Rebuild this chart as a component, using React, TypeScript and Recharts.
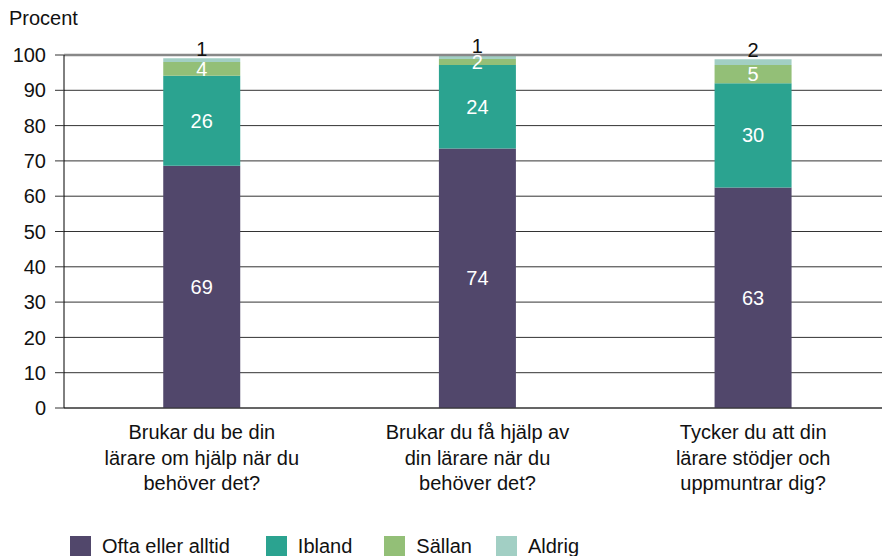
import React from 'react';
import { BarChart, Bar, XAxis, YAxis, CartesianGrid, ReferenceLine, LabelList } from 'recharts';

const categories = [
  ['Brukar du be din', 'lärare om hjälp när du', 'behöver det?'],
  ['Brukar du få hjälp av', 'din lärare när du', 'behöver det?'],
  ['Tycker du att din', 'lärare stödjer och', 'uppmuntrar dig?'],
];
const ofta = [68.6, 73.5, 62.5];
const ibland = [25.5, 23.7, 29.5];
const sallan = [3.9, 1.7, 5.2];
const aldrig = [1.1, 1.1, 1.6];
const yTicks = [0, 10, 20, 30, 40, 50, 60, 70, 80, 90, 100];

const series = [
  { key: 'ofta', name: 'Ofta eller alltid', color: '#51476b', values: ofta },
  { key: 'ibland', name: 'Ibland', color: '#2ba390', values: ibland },
  { key: 'sallan', name: 'Sällan', color: '#93bf77', values: sallan },
  { key: 'aldrig', name: 'Aldrig', color: '#a2cfc4', values: aldrig },
];

const data = categories.map((lines, i) => {
  const row: any = { name: String(i) };
  series.forEach((s) => (row[s.key] = s.values[i]));
  return row;
});

const FONT = '"Liberation Sans", Arial, sans-serif';
const FS = 20;

function CategoryTick(props: any) {
  const { x, y, payload } = props;
  const lines = categories[Number(payload.value)];
  return (
    <text x={x} y={y} textAnchor="middle" fill="#111" fontSize={FS} fontFamily={FONT}>
      {lines.map((l, i) => (
        <tspan key={i} x={x} dy={i === 0 ? 23 : 25.5}>{l}</tspan>
      ))}
    </text>
  );
}

const fmt = (v: any) => String(Math.round(Number(v)));

function TopLabel(props: any) {
  const { x, y, width, value } = props;
  return (
    <text x={x + width / 2} y={y - 2} textAnchor="middle" fill="#111" fontSize={FS} fontFamily={FONT}>
      {fmt(value)}
    </text>
  );
}

export default function App() {
  return (
    <div style={{ position: 'absolute', left: 0, top: 0, width: 882, height: 556, overflow: 'hidden', background: '#fff', fontFamily: FONT }}>
      <div style={{ position: 'absolute', left: 9, top: 7, fontSize: FS, color: '#111' }}>Procent</div>
      <BarChart
        width={900}
        height={556}
        data={data}
        margin={{ top: 55, right: 9, bottom: 0, left: 1 }}
        barCategoryGap="36%"
      >
        <CartesianGrid vertical={false} stroke="#333" strokeWidth={1} />
        <ReferenceLine y={100} stroke="#888" strokeWidth={2.5} />
        <XAxis
          dataKey="name"
          height={148}
          tickLine={false}
          axisLine={{ stroke: '#333' }}
          tick={<CategoryTick />}
          interval={0}
        />
        <YAxis
          width={63}
          domain={[0, 100]}
          ticks={yTicks}
          interval={0}
          tickSize={9}
          tickMargin={9}
          tickLine={{ stroke: '#333' }}
          axisLine={{ stroke: '#000' }}
          tick={{ fill: '#111', fontSize: FS, fontFamily: FONT }}
        />
        {series.map((s) => (
          <Bar key={s.key} dataKey={s.key} name={s.name} stackId="a" fill={s.color} isAnimationActive={false}>
            {s.key === 'aldrig' ? (
              <LabelList dataKey={s.key} content={<TopLabel />} />
            ) : (
              <LabelList
                dataKey={s.key}
                position="center"
                formatter={fmt}
                fill="#fff"
                style={{ fontSize: FS, fontFamily: FONT }}
              />
            )}
          </Bar>
        ))}
      </BarChart>
      <div style={{ position: 'absolute', left: 70, top: 535, display: 'flex', alignItems: 'center', fontSize: FS, lineHeight: '22px', color: '#111' }}>
        {series.map((s, i) => (
          <div key={s.key} style={{ display: 'flex', alignItems: 'center', marginRight: [36, 32, 24, 0][i] }}>
            <span style={{ width: 21, height: 21, background: s.color, display: 'inline-block', marginRight: 11 }} />
            <span>{s.name}</span>
          </div>
        ))}
      </div>
    </div>
  );
}
